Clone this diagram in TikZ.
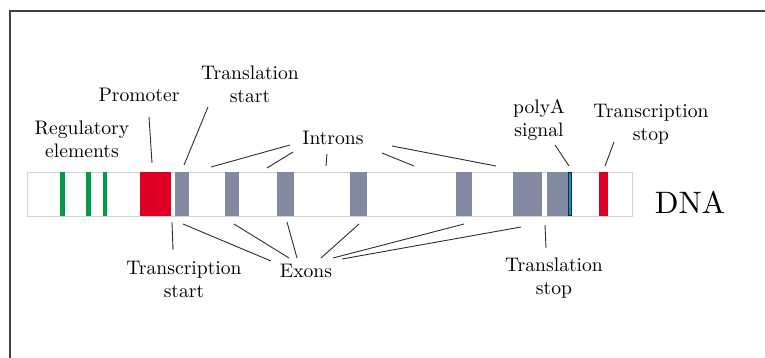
\documentclass[tikz,border=0pt]{standalone}
\usepackage{fontspec}
\newfontfamily\lblfont{lmroman10-regular.otf}
\definecolor{exongrey}{RGB}{130,138,162}
\definecolor{promred}{RGB}{222,0,36}
\definecolor{reggreen}{RGB}{0,155,70}
\definecolor{polyblue}{RGB}{0,150,220}
\definecolor{linegrey}{RGB}{45,45,45}
\begin{document}
\begin{tikzpicture}[x=1pt,y=-1pt,
  lbl/.style={font=\lblfont\fontsize{19.6}{23}\selectfont, inner sep=0pt, align=center},
  conn/.style={draw=linegrey, line width=0.9pt},
  feat/.style={inner sep=0pt, outer sep=0pt, minimum height=43pt, anchor=north west},
  exon/.style={feat, fill=exongrey},
  regel/.style={feat, fill=reggreen, minimum width=4.5pt}]
\useasboundingbox (0,0) rectangle (765,358);
% frame
\draw[line width=1.5pt, black!75] (10,358) -- (10,11) -- (765,11);
% DNA bar
\node[draw=black!18, line width=1pt, inner sep=0pt, minimum width=605pt, minimum height=44pt, anchor=north west] (bar) at (27,172) {};
% regulatory elements
\node[regel] (g1) at (60,172.5) {};
\node[regel] (g2) at (86,172.5) {};
\node[regel] (g3) at (102.5,172.5) {};
% promoter
\node[feat, fill=promred, minimum width=31pt] (prom) at (140,172.5) {};
% exons
\node[exon, minimum width=14pt] (ex1) at (175,172.5) {};
\node[exon, minimum width=14pt] (ex2) at (225,172.5) {};
\node[exon, minimum width=17pt] (ex3) at (277,172.5) {};
\node[exon, minimum width=17pt] (ex4) at (350,172.5) {};
\node[exon, minimum width=16pt] (ex5) at (456,172.5) {};
\node[exon, minimum width=29pt] (ex6) at (513,172.5) {};
\node[exon, minimum width=21pt] (ex7) at (547,172.5) {};
% polyA signal
\node[feat, fill=polyblue, draw=black!85, line width=0.6pt, minimum width=3.5pt, minimum height=42.5pt] (poly) at (568,172.7) {};
% transcription stop
\node[feat, fill=promred, minimum width=9pt] (tstop) at (599,172.5) {};

% labels
\node[lbl] (lreg) at (82,139) {Regulatory\\elements};
\node[lbl, anchor=base] (lprom) at (139,102) {Promoter};
\node[lbl] (ltls) at (250,84) {Translation\\start};
\node[lbl, anchor=base] (lint) at (333,145) {Introns};
\node[lbl] (lpoly) at (539,120) {polyA\\signal};
\node[lbl] (ltss) at (651,124) {Transcription\\stop};
\node[inner sep=0pt, font=\lblfont\fontsize{31}{31}\selectfont, anchor=base] (ldna) at (690,213) {DNA};
\node[lbl] (ltrs) at (184,279) {Transcription\\start};
\node[lbl, anchor=base] (lexo) at (306,277) {Exons};
\node[lbl] (ltlst) at (554,278) {Translation\\stop};

% connector end points
\coordinate (pa) at (149,117);   \coordinate (pb) at (152,163);
\coordinate (ta) at (208,107);   \coordinate (tb) at (184,165);
\coordinate (i1a) at (290,145);  \coordinate (i1b) at (211,167);
\coordinate (i2a) at (293,152);  \coordinate (i2b) at (267,168);
\coordinate (i3a) at (327,154);  \coordinate (i3b) at (326,166);
\coordinate (i4a) at (382,153);  \coordinate (i4b) at (414,166);
\coordinate (i5a) at (392,146);  \coordinate (i5b) at (496,166);
\coordinate (poa) at (555,145);  \coordinate (pob) at (569,166);
\coordinate (ssa) at (614,142);  \coordinate (ssb) at (605,166);
\coordinate (rsa) at (172,222);  \coordinate (rsb) at (173,250);
\coordinate (e1a) at (183,224);  \coordinate (e1b) at (271,261);
\coordinate (e2a) at (234,224);  \coordinate (e2b) at (289,258);
\coordinate (e3a) at (287,222);  \coordinate (e3b) at (297,258);
\coordinate (e4a) at (359,224);  \coordinate (e4b) at (321,258);
\coordinate (e5a) at (464,224);  \coordinate (e5b) at (333,258);
\coordinate (e6a) at (521,227);  \coordinate (e6b) at (342,259);
\coordinate (lsa) at (545,225);  \coordinate (lsb) at (546,248);

% connectors
\draw[conn] (pa) -- (pb);
\draw[conn] (ta) -- (tb);
\draw[conn] (i1a) -- (i1b);
\draw[conn] (i2a) -- (i2b);
\draw[conn] (i3a) -- (i3b);
\draw[conn] (i4a) -- (i4b);
\draw[conn] (i5a) -- (i5b);
\draw[conn] (poa) -- (pob);
\draw[conn] (ssa) -- (ssb);
\draw[conn] (rsa) -- (rsb);
\draw[conn] (e1a) -- (e1b);
\draw[conn] (e2a) -- (e2b);
\draw[conn] (e3a) -- (e3b);
\draw[conn] (e4a) -- (e4b);
\draw[conn] (e5a) -- (e5b);
\draw[conn] (e6a) -- (e6b);
\draw[conn] (lsa) -- (lsb);
\end{tikzpicture}
\end{document}
